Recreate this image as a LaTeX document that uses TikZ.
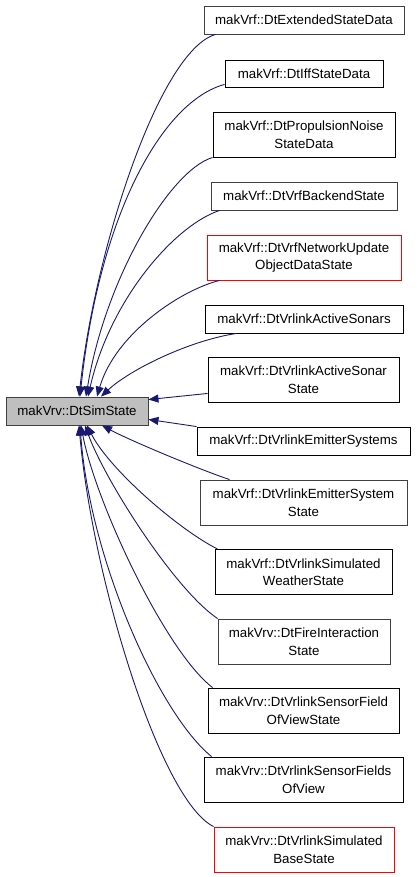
\documentclass[tikz,border=0pt]{standalone}
\usepackage{fontspec}
\setmainfont{Liberation Sans}
\usetikzlibrary{arrows.meta}
\definecolor{edgeblue}{HTML}{191970}
\definecolor{darkborder}{HTML}{404040}
\definecolor{simgray}{HTML}{BFBFBF}
\tikzset{
  cls/.style={draw=black, line width=0.9pt, fill=white, align=center, inner sep=0pt,
    font=\fontsize{13.3}{17.5}\selectfont},
  clsgray/.style={cls, draw=darkborder},
  clsred/.style={cls, draw=red},
  clsmain/.style={cls, fill=simgray, draw=darkborder},
  inh/.style={draw=edgeblue, line width=0.9pt, -{Triangle[length=10pt,width=8pt]}, fill=none},
}
\begin{document}
\begin{tikzpicture}[x=1pt,y=-1pt]
\useasboundingbox (0,0) rectangle (416,877);
% main class
\node[clsmain, minimum width=142, minimum height=28] (sim) at (77,411) {makVrv::DtSimState};
% derived classes
\node[clsgray, minimum width=200, minimum height=28] (ext) at (304,20) {makVrf::DtExtendedStateData};
\node[cls, minimum width=158, minimum height=27] (iff) at (304,73.5) {makVrf::DtIffStateData};
\node[cls, minimum width=182, minimum height=45] (prop) at (304,134.5) {makVrf::DtPropulsionNoise\\StateData};
\node[clsgray, minimum width=186, minimum height=28] (back) at (304,196) {makVrf::DtVrfBackendState};
\node[clsred, minimum width=194, minimum height=45] (net) at (304,257.5) {makVrf::DtVrfNetworkUpdate\\ObjectDataState};
\node[cls, minimum width=198, minimum height=28] (asos) at (304,319) {makVrf::DtVrlinkActiveSonars};
\node[cls, minimum width=191, minimum height=45] (aso) at (303.5,379.5) {makVrf::DtVrlinkActiveSonar\\State};
\node[cls, minimum width=213, minimum height=28] (ems) at (303.5,441) {makVrf::DtVrlinkEmitterSystems};
\node[clsgray, minimum width=207, minimum height=45] (emss) at (303.5,502.5) {makVrf::DtVrlinkEmitterSystem\\State};
\node[cls, minimum width=177, minimum height=45] (wea) at (303.5,572) {makVrf::DtVrlinkSimulated\\WeatherState};
\node[clsgray, minimum width=172, minimum height=45] (fire) at (304,641.5) {makVrv::DtFireInteraction\\State};
\node[cls, minimum width=191, minimum height=45] (fov) at (303.5,710.5) {makVrv::DtVrlinkSensorField\\OfViewState};
\node[cls, minimum width=199, minimum height=45] (fovs) at (303.5,779.5) {makVrv::DtVrlinkSensorFields\\OfView};
\node[clsred, minimum width=180, minimum height=45] (base) at (304,849.5) {makVrv::DtVrlinkSimulated\\BaseState};
% inheritance edges (upper)
\draw[inh] ([xshift=12pt]ext.south west) .. controls +(-56,16) and +(16,-147) .. ([xshift=2pt]sim.north);
\draw[inh] ([yshift=3pt]iff.south west) .. controls +(-60,16) and +(20,-187) .. ([xshift=3pt]sim.north);
\draw[inh] (prop.south west) .. controls +(-43,13) and +(19,-117) .. ([xshift=9pt]sim.north);
\draw[inh] ([xshift=9pt]back.south west) .. controls +(-45,15) and +(22,-97) .. ([xshift=11pt]sim.north);
\draw[inh] ([xshift=13pt]net.south west) .. controls +(-40,10) and +(18,-62) .. ([xshift=20pt]sim.north);
\draw[inh] ([xshift=32pt]asos.south west) .. controls +(-47,7) and +(29,-27) .. ([xshift=24pt]sim.north);
% right side edges
\draw[inh] ([yshift=9pt]aso.south west) -- ([yshift=-3pt]sim.north east);
\draw[inh] (ems.north west) -- ([yshift=6pt]sim.south east);
% lower edges
\draw[inh] ([xshift=30pt]emss.north west) .. controls +(-30,-10) and +(28,15) .. ([xshift=25pt]sim.south);
\draw[inh] ([xshift=3pt]wea.north west) .. controls +(-38,-19) and +(23,45) .. ([xshift=10pt]sim.south);
\draw[inh] (fire.north west) .. controls +(-43,-29) and +(20,55) .. ([xshift=8pt]sim.south);
\draw[inh] ([xshift=5pt]fov.north west) .. controls +(-48,-37) and +(14,75) .. ([xshift=4pt]sim.south);
\draw[inh] ([xshift=8pt]fovs.north west) .. controls +(-52,-42) and +(10,135) .. ([xshift=3pt]sim.south);
\draw[inh] (base.north west) .. controls +(-54,-27) and +(13,150) .. ([xshift=2pt]sim.south);
\end{tikzpicture}
\end{document}
